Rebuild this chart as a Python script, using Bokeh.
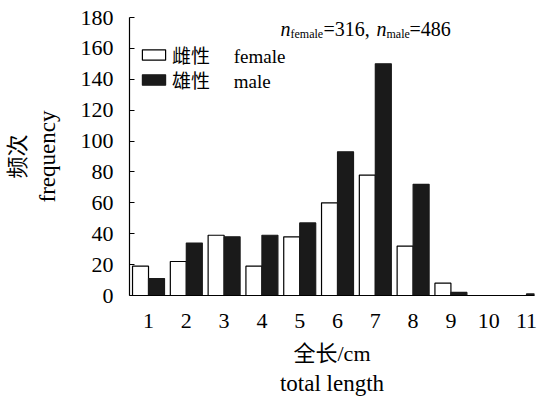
from bokeh.plotting import figure
from bokeh.models import Range1d, FixedTicker, Label, Legend, LegendItem, ColumnDataSource, Title
from bokeh.transform import dodge
from bokeh.embed import file_html
from bokeh.resources import INLINE

# ---- data ----
lengths = [1, 2, 3, 4, 5, 6, 7, 8, 9, 10, 11]
female = [19, 22, 39, 19, 38, 60, 78, 32, 8, 0, 0]
male = [11, 34, 38, 39, 47, 93, 150, 72, 2, 0, 1]
y_ticks = [0, 20, 40, 60, 80, 100, 120, 140, 160, 180]

SERIF = "Liberation Serif"
MIX = "Liberation Serif, Noto Sans CJK SC"

W, H = 538, 400
BL, BT, BB, BR = 129, 17, 105, 4
X0, X1 = 0.497, 11.211
Y0, Y1 = 0, 180
FW = W - BL - BR
FH = H - BT - BB

def px2x(px):  # page px -> data x
    return X0 + (px - BL) * (X1 - X0) / FW

def py2y(py):  # page px -> data y
    return Y0 + (BT + FH - py) * (Y1 - Y0) / FH

p = figure(width=W, height=H, output_backend="svg", toolbar_location=None,
           x_range=Range1d(X0, X1), y_range=Range1d(Y0, Y1),
           min_border_left=BL, min_border_top=BT, min_border_bottom=BB, min_border_right=BR)
p.outline_line_color = None
p.grid.visible = False
p.background_fill_color = "white"

src = ColumnDataSource(dict(x=lengths, female=female, male=male))
rf = p.vbar(x=dodge("x", -0.2115), top="female", width=0.423, source=src,
            fill_color="white", line_color="black", line_width=1.2)
rm = p.vbar(x=dodge("x", 0.2115), top="male", width=0.423, source=src,
            fill_color="#1a1a1a", line_color="#1a1a1a", line_width=1.2)

# axes
xa = p.xaxis[0]
xa.ticker = FixedTicker(ticks=lengths)
xa.major_tick_in = 0
xa.major_tick_out = 0
xa.minor_tick_in = 0
xa.minor_tick_out = 0
xa.major_label_standoff = 18
xa.major_label_text_font = SERIF
xa.major_label_text_font_size = "22px"
xa.major_label_text_color = "black"
xa.axis_line_color = "black"
xa.axis_line_width = 1.2
xa.axis_label = "全长/cm"
xa.axis_label_text_font = MIX
xa.axis_label_text_font_size = "22px"
xa.axis_label_text_font_style = "normal"
xa.axis_label_text_color = "black"
xa.axis_label_standoff = 10

ya = p.yaxis[0]
ya.ticker = FixedTicker(ticks=y_ticks)
ya.major_tick_in = 5
ya.major_tick_out = 0
ya.minor_tick_in = 0
ya.minor_tick_out = 0
ya.major_label_standoff = 16
ya.major_label_text_font = SERIF
ya.major_label_text_font_size = "22px"
ya.major_label_text_color = "black"
ya.axis_line_color = "black"
ya.axis_line_width = 1.2
ya.axis_label = "frequency"
ya.axis_label_text_font = SERIF
ya.axis_label_text_font_size = "23px"
ya.axis_label_text_font_style = "normal"
ya.axis_label_text_color = "black"
ya.axis_label_standoff = 18

t_left = Title(text="频次", align="center", text_font=MIX, text_font_size="22px",
               text_font_style="normal", text_color="black", standoff=4)
p.add_layout(t_left, "left")
t_below = Title(text="total length", align="center", text_font=SERIF, text_font_size="23px",
                text_font_style="normal", text_color="black", standoff=0)
p.add_layout(t_below, "below")

# legend: one single-item legend per row
def add_legend_row(label, renderer, y_from_bottom):
    lg = Legend(items=[LegendItem(label=label, renderers=[renderer])],
                location=(10, y_from_bottom))
    lg.background_fill_alpha = 0
    lg.border_line_alpha = 0
    lg.padding = 0
    lg.margin = 0
    lg.spacing = 0
    lg.glyph_width = 29
    lg.glyph_height = 13
    lg.label_height = 20
    lg.label_standoff = 4
    lg.label_text_font = MIX
    lg.label_text_font_size = "19px"
    lg.label_text_color = "black"
    p.add_layout(lg, "center")

add_legend_row("雌性\u00a0\u00a0\u00a0\u00a0\u00a0female", rf, 227)
add_legend_row("雄性\u00a0\u00a0\u00a0\u00a0\u00a0male", rm, 202)

def lab(text, px, py, size="20px", style="normal", align="left", font=SERIF):
    p.add_layout(Label(x=px2x(px), y=py2y(py), text=text, text_font=font,
                       text_font_size=size, text_font_style=style,
                       text_align=align, text_baseline="middle", text_color="black"))

# sample size annotation
ax = 280
base = 28
lab("n", ax, base, style="italic")
lab("female", ax + 10, base + 5, size="12px")
lab("=316, ", ax + 43, base)
lab("n", ax + 96, base, style="italic")
lab("male", ax + 106, base + 5, size="12px")
lab("=486", ax + 129, base)

open("out.html", "w").write(file_html(p, INLINE))
